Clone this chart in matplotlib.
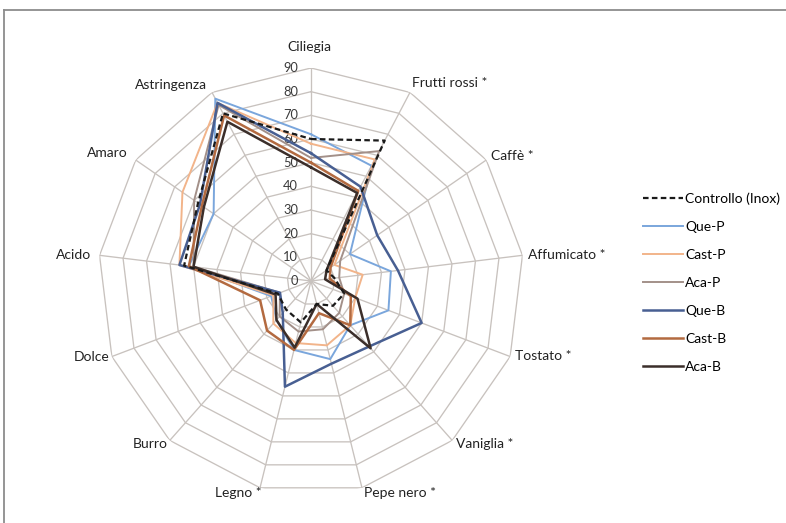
import numpy as np
import matplotlib
matplotlib.use("Agg")
import matplotlib.pyplot as plt
from matplotlib.lines import Line2D

plt.rcParams['font.family'] = ['Lato', 'DejaVu Sans']

categories = ["Ciliegia", "Frutti rossi *", "Caffè *", "Affumicato *", "Tostato *",
              "Vaniglia *", "Pepe nero *", "Legno *", "Burro", "Dolce", "Acido",
              "Amaro", "Astringenza"]
series_names = ["Controllo (Inox)", "Que-P", "Cast-P", "Aca-P", "Que-B", "Cast-B", "Aca-B"]

controllo = [60, 67, 8, 10, 15, 14, 10, 18, 16, 15, 54, 58, 80]
que_p     = [62, 55, 20, 34, 35, 25, 34, 30, 22, 18, 52, 50, 87]
cast_p    = [58, 58, 12, 22, 20, 25, 28, 27, 24, 17, 56, 66, 85]
aca_p     = [52, 62, 15, 12, 15, 18, 21, 22, 20, 14, 50, 60, 84]
que_b     = [54, 45, 34, 37, 50, 37, 36, 46, 18, 14, 56, 57, 85]
cast_b    = [50, 43, 10, 8, 18, 25, 14, 30, 28, 23, 52, 56, 79]
aca_b     = [48, 42, 8, 6, 21, 38, 10, 29, 22, 16, 50, 55, 76]
r_ticks = [0, 10, 20, 30, 40, 50, 60, 70, 80, 90]

series = [controllo, que_p, cast_p, aca_p, que_b, cast_b, aca_b]
colors = ["#1a1a1a", "#7aa6dc", "#f2b48a", "#a39089", "#485f92", "#b36a40", "#3b2e2a"]
styles = ["--", "-", "-", "-", "-", "-", "-"]
widths = [1.6, 1.4, 1.4, 1.4, 1.8, 1.8, 1.8]

W, H = 786, 523
fig = plt.figure(figsize=(W / 100, H / 100), dpi=100)
fig.patch.set_facecolor("white")

# border
fig.add_artist(Line2D([4 / W, 1.0], [1 - 10 / H, 1 - 10 / H], transform=fig.transFigure,
                      color="#8c8c8c", lw=1.3))
fig.add_artist(Line2D([4 / W, 4 / W], [0, 1 - 10 / H], transform=fig.transFigure,
                      color="#8c8c8c", lw=1.3))

cx, cy, R = 311, 281, 213
ax = fig.add_axes([(cx - R) / W, (H - cy - R) / H, 2 * R / W, 2 * R / H], projection="polar")
ax.set_theta_offset(np.pi / 2)
ax.set_theta_direction(-1)
ax.set_ylim(0, r_ticks[-1])
ax.set_xticks([])
ax.set_yticks([])
ax.grid(False)
ax.spines["polar"].set_visible(False)
ax.patch.set_alpha(0)

N = len(categories)
angles = np.arange(N) * 2 * np.pi / N
closed = np.append(angles, angles[0])
gridc = "#c8c2be"
for r in r_ticks[1:]:
    ax.plot(closed, [r] * (N + 1), color=gridc, lw=0.95, zorder=1)
for a in angles:
    ax.plot([a, a], [0, r_ticks[-1]], color=gridc, lw=0.95, zorder=1)

for r in r_ticks:
    ax.annotate(str(r), xy=(0, r), xytext=(-13, 0), textcoords="offset pixels",
                ha="right", va="center", fontsize=9.3, color="#3a3a3a", zorder=2)

for vals, name, c, ls, lw in zip(series, series_names, colors, styles, widths):
    v = np.append(vals, vals[0])
    if ls == "--":
        ax.plot(closed, v, color=c, lw=lw, dashes=(2.5, 1.5), label=name, zorder=4)
    else:
        ax.plot(closed, v, color=c, lw=lw, ls=ls, label=name, zorder=3)

label_pos = [("center", -2, 21), ("left", 2, 9), ("left", 5, 4), ("left", 6, 0),
             ("left", 5, 1), ("left", 4, -4), ("left", 2, -5), ("right", 2, -5),
             ("right", -2, -4), ("right", -2, 0), ("right", -8, 0), ("right", -8, 7),
             ("right", -5, 7)]
for a, lab, (ha, dx, dy) in zip(angles, categories, label_pos):
    ax.annotate(lab, xy=(a, r_ticks[-1]), xytext=(dx, dy), textcoords="offset pixels",
                ha=ha, va="center", fontsize=10, color="#222222", annotation_clip=False)

handles = []
for name, c, ls, lw in zip(series_names, colors, styles, widths):
    if ls == "--":
        handles.append(Line2D([], [], color=c, lw=lw, dashes=(2.5, 1.5)))
    else:
        handles.append(Line2D([], [], color=c, lw=lw))
fig.legend(handles, series_names, loc="upper left", bbox_to_anchor=(643 / W, 1 - 192 / H),
           bbox_transform=fig.transFigure, frameon=False, handlelength=2.9,
           handletextpad=0.15, labelspacing=1.16, fontsize=10, borderaxespad=0, borderpad=0)

fig.savefig("out.png", dpi=100, facecolor="white")
